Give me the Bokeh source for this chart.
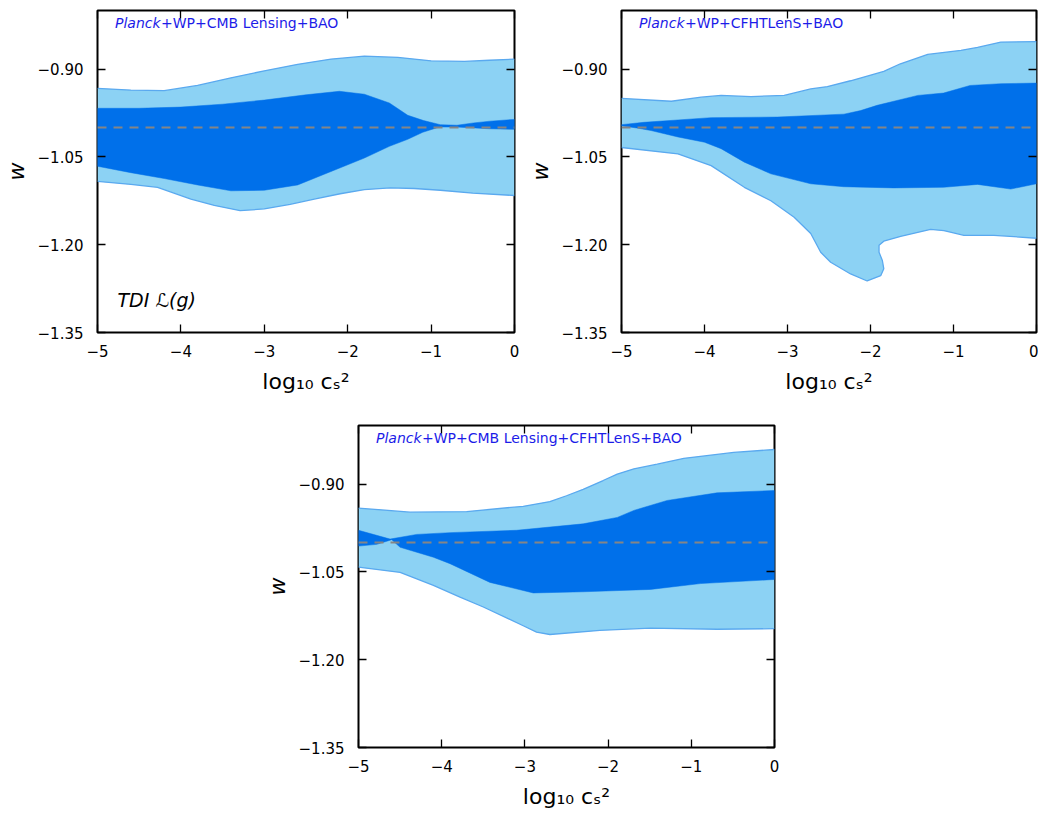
from bokeh.plotting import figure
from bokeh.models import FixedTicker, LinearAxis, Span, Label, Range1d, Spacer
from bokeh.layouts import row, column
from bokeh.embed import file_html
from bokeh.resources import INLINE

# ---------------- data ----------------
X_TICKS = [-5, -4, -3, -2, -1, 0]
X_TICK_LABELS = ["−5", "−4", "−3", "−2", "−1", "0"]
Y_TICKS = [-1.35, -1.20, -1.05, -0.90]
Y_TICK_LABELS = ["−1.35", "−1.20", "−1.05", "−0.90"]
X_RANGE = (-5.0, 0.0)
Y_RANGE = (-1.35, -0.80)
W_FIDUCIAL = -1.0
X_LABEL = "log₁₀ cₛ²"
Y_LABEL = "w"

TITLE_ITALIC = "Planck"
A_TITLE = "+WP+CMB Lensing+BAO"
B_TITLE = "+WP+CFHTLenS+BAO"
C_TITLE = "+WP+CMB Lensing+CFHTLenS+BAO"
A_NOTE = "TDI ℒ(g)"

# Panel A : Planck+WP+CMB Lensing+BAO
A_OUT_UP_X = [-5.0, -4.6, -4.2, -3.8, -3.4, -3.0, -2.6, -2.2, -1.8, -1.4, -1.0, -0.6, -0.3, 0.0]
A_OUT_UP_Y = [-0.933, -0.936, -0.937, -0.928, -0.915, -0.903, -0.892, -0.883, -0.878, -0.880, -0.886, -0.887, -0.885, -0.883]
A_OUT_LO_X = [-5.0, -4.6, -4.28, -3.88, -3.6, -3.29, -3.0, -2.69, -2.4, -2.09, -1.8, -1.49, -1.2, -0.89, -0.5, 0.0]
A_OUT_LO_Y = [-1.092, -1.097, -1.102, -1.122, -1.133, -1.142, -1.139, -1.131, -1.122, -1.113, -1.106, -1.103, -1.104, -1.107, -1.112, -1.116]
A_IN_UP_X = [-5.0, -4.5, -4.0, -3.5, -3.0, -2.5, -2.1, -1.8, -1.5, -1.28, -1.09, -0.89, -0.69, -0.49, -0.29, 0.0]
A_IN_UP_Y = [-0.967, -0.967, -0.965, -0.960, -0.953, -0.944, -0.938, -0.943, -0.958, -0.979, -0.988, -0.995, -0.996, -0.992, -0.989, -0.986]
A_IN_LO_X = [-5.0, -4.6, -4.2, -3.8, -3.4, -3.0, -2.6, -2.2, -1.8, -1.5, -1.28, -1.1, -0.9, -0.7, -0.3, 0.0]
A_IN_LO_Y = [-1.066, -1.077, -1.087, -1.098, -1.108, -1.107, -1.098, -1.075, -1.052, -1.032, -1.020, -1.008, -0.999, -0.999, -1.002, -1.003]

# Panel B : Planck+WP+CFHTLenS+BAO
B_OUT_UP_X = [-5.0, -4.4, -4.04, -3.8, -3.44, -3.04, -2.72, -2.52, -2.24, -1.84, -1.64, -1.31, -0.91, -0.71, -0.43, 0.0]
B_OUT_UP_Y = [-0.950, -0.955, -0.948, -0.945, -0.947, -0.945, -0.934, -0.930, -0.920, -0.904, -0.891, -0.875, -0.868, -0.863, -0.854, -0.853]
B_OUT_LO_X = [-5.0, -4.32, -3.92, -3.52, -3.2, -2.92, -2.72, -2.6, -2.48, -2.24, -2.04, -1.877, -1.84, -1.857, -1.897, -1.897, -1.84, -1.637, -1.276, -1.115, -0.875, -0.514, 0.0]
B_OUT_LO_Y = [-1.034, -1.045, -1.065, -1.102, -1.125, -1.153, -1.181, -1.213, -1.230, -1.250, -1.262, -1.253, -1.241, -1.227, -1.213, -1.201, -1.194, -1.186, -1.174, -1.176, -1.184, -1.184, -1.189]
B_IN_UP_X = [-5.0, -4.73, -4.32, -3.92, -3.12, -2.32, -2.12, -1.92, -1.43, -1.12, -0.80, -0.43, 0.0]
B_IN_UP_Y = [-0.995, -0.991, -0.987, -0.983, -0.982, -0.977, -0.971, -0.962, -0.945, -0.941, -0.928, -0.925, -0.924]
B_IN_LO_X = [-5.0, -4.8, -4.645, -4.32, -4.0, -3.8, -3.52, -3.2, -2.72, -2.32, -1.72, -1.12, -0.71, -0.31, 0.0]
B_IN_LO_Y = [-0.997, -1.001, -1.005, -1.016, -1.025, -1.036, -1.059, -1.079, -1.096, -1.101, -1.103, -1.102, -1.097, -1.105, -1.096]

# Panel C : Planck+WP+CMB Lensing+CFHTLenS+BAO
C_OUT_UP_X = [-5.0, -4.38, -3.70, -3.02, -2.70, -2.50, -2.30, -2.06, -1.89, -1.69, -1.41, -1.09, -0.49, 0.0]
C_OUT_UP_Y = [-0.941, -0.948, -0.947, -0.938, -0.930, -0.920, -0.909, -0.894, -0.883, -0.874, -0.866, -0.856, -0.846, -0.841]
C_OUT_LO_X = [-5.0, -4.50, -4.10, -3.78, -3.50, -3.02, -2.86, -2.70, -2.10, -1.49, -0.69, 0.0]
C_OUT_LO_Y = [-1.042, -1.051, -1.073, -1.093, -1.110, -1.142, -1.153, -1.157, -1.150, -1.146, -1.148, -1.147]
C_IN_UP_X = [-5.0, -4.62, -4.30, -3.90, -3.10, -2.30, -1.89, -1.69, -1.29, -0.69, 0.0]
C_IN_UP_Y = [-0.979, -0.994, -0.986, -0.983, -0.979, -0.968, -0.957, -0.945, -0.928, -0.915, -0.911]
C_IN_LO_X = [-5.0, -4.78, -4.60, -4.50, -4.10, -3.90, -3.42, -2.90, -2.30, -1.49, -0.89, 0.0]
C_IN_LO_Y = [-1.006, -1.003, -0.995, -1.008, -1.025, -1.036, -1.068, -1.086, -1.084, -1.080, -1.070, -1.063]

# ---------------- style ----------------
LIGHT = "#8cd2f4"
DARK = "#0070ea"
EDGE = "#5aa9ef"
TITLE_COLOR = "#1c1ce8"
FONT = "DejaVu Sans"


def make_panel(out_up_x, out_up_y, out_lo_x, out_lo_y, in_up_x, in_up_y, in_lo_x, in_lo_y,
               title_rest, width, height, bl, br, bt, bb):
    p = figure(width=width, height=height, x_range=Range1d(*X_RANGE), y_range=Range1d(*Y_RANGE),
               output_backend="svg", toolbar_location=None,
               min_border_left=bl, min_border_right=br, min_border_top=bt, min_border_bottom=bb)
    p.grid.visible = False
    p.outline_line_color = "black"
    p.outline_line_width = 2
    p.background_fill_color = "white"
    p.border_fill_color = "white"

    # 95% region
    p.patch(out_up_x + out_lo_x[::-1], out_up_y + out_lo_y[::-1], fill_color=LIGHT, line_color=None)
    p.line(out_up_x, out_up_y, line_color=EDGE, line_width=1.3)
    p.line(out_lo_x, out_lo_y, line_color=EDGE, line_width=1.3)
    # 68% region
    p.patch(in_up_x + in_lo_x[::-1], in_up_y + in_lo_y[::-1], fill_color=DARK, line_color=DARK, line_width=0.5)

    p.add_layout(Span(location=W_FIDUCIAL, dimension="width", line_color="#858585",
                      line_dash="9 7", line_width=2))

    # axes
    for ax in (p.xaxis[0], p.yaxis[0]):
        ax.major_tick_in = 8
        ax.major_tick_out = 0
        ax.major_tick_line_color = "black"
        ax.major_tick_line_width = 1.3
        ax.minor_tick_line_color = None
        ax.axis_line_color = None
        ax.major_label_text_font = FONT
        ax.major_label_text_font_size = "15px"
        ax.major_label_text_color = "black"
        ax.axis_label_text_font = FONT
        ax.axis_label_text_font_size = "22px"
        ax.axis_label_text_color = "black"
    p.xaxis.ticker = FixedTicker(ticks=X_TICKS)
    p.xaxis.major_label_overrides = dict(zip(X_TICKS, X_TICK_LABELS))
    p.xaxis.major_label_standoff = 12
    p.xaxis.axis_label = X_LABEL
    p.xaxis.axis_label_text_font_style = "normal"
    p.xaxis.axis_label_standoff = 9
    p.yaxis.ticker = FixedTicker(ticks=Y_TICKS)
    p.yaxis.major_label_overrides = dict(zip(Y_TICKS, Y_TICK_LABELS))
    p.yaxis.major_label_standoff = 14
    p.yaxis.axis_label = Y_LABEL
    p.yaxis.axis_label_text_font_style = "italic"
    p.yaxis.axis_label_standoff = 6

    top = LinearAxis(ticker=FixedTicker(ticks=X_TICKS), major_tick_in=8, major_tick_out=0,
                     major_tick_line_width=1.3, minor_tick_line_color=None, axis_line_color=None,
                     major_label_text_font_size="0px", major_label_standoff=0,
                     major_label_overrides={t: "" for t in X_TICKS})
    right = LinearAxis(ticker=FixedTicker(ticks=Y_TICKS), major_tick_in=8, major_tick_out=0,
                       major_tick_line_width=1.3, minor_tick_line_color=None, axis_line_color=None,
                       major_label_text_font_size="0px", major_label_standoff=0,
                       major_label_overrides={t: "" for t in Y_TICKS})
    p.add_layout(top, "above")
    p.add_layout(right, "right")

    p.add_layout(Label(x=-4.79, y=-0.821, text=TITLE_ITALIC, text_font=FONT, text_font_style="italic",
                       text_font_size="14px", text_color=TITLE_COLOR, text_baseline="middle"))
    p.add_layout(Label(x=-4.79, y=-0.821, x_offset=46, text=title_rest, text_font=FONT,
                       text_font_size="14px", text_color=TITLE_COLOR, text_baseline="middle"))
    return p


pA = make_panel(A_OUT_UP_X, A_OUT_UP_Y, A_OUT_LO_X, A_OUT_LO_Y, A_IN_UP_X, A_IN_UP_Y, A_IN_LO_X, A_IN_LO_Y,
                A_TITLE, 524, 412, 97, 10, 10, 80)
pA.add_layout(Label(x=-4.76, y=-1.295, text=A_NOTE, text_font=FONT, text_font_style="italic",
                    text_font_size="19px", text_color="black", text_baseline="middle"))
pB = make_panel(B_OUT_UP_X, B_OUT_UP_Y, B_OUT_LO_X, B_OUT_LO_Y, B_IN_UP_X, B_IN_UP_Y, B_IN_LO_X, B_IN_LO_Y,
                B_TITLE, 514, 412, 96, 2, 10, 80)
pC = make_panel(C_OUT_UP_X, C_OUT_UP_Y, C_OUT_LO_X, C_OUT_LO_Y, C_IN_UP_X, C_IN_UP_Y, C_IN_LO_X, C_IN_LO_Y,
                C_TITLE, 523, 401, 97, 10, 13, 66)

layout = column(row(pA, pB), row(Spacer(width=261, height=401), pC))

open("out.html", "w").write(file_html(layout, INLINE))
